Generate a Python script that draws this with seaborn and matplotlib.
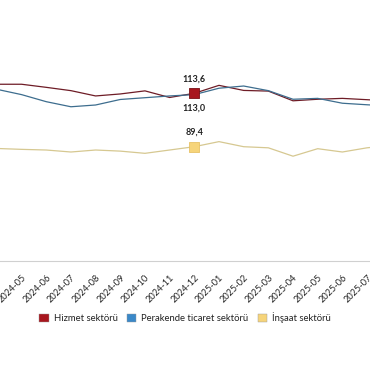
import matplotlib
matplotlib.use("Agg")
import matplotlib.pyplot as plt
import seaborn as sns
import pandas as pd
from matplotlib.patches import Patch

months = ["2024-04", "2024-05", "2024-06", "2024-07", "2024-08", "2024-09",
          "2024-10", "2024-11", "2024-12", "2025-01", "2025-02", "2025-03",
          "2025-04", "2025-05", "2025-06", "2025-07", "2025-08"]
hizmet = [117.7, 117.7, 116.3, 114.8, 112.4, 113.3, 114.7, 111.7, 113.6,
          117.2, 114.9, 114.6, 110.2, 110.9, 111.3, 110.7, 110.1]
perakende = [115.4, 113.0, 109.8, 107.5, 108.3, 110.8, 111.6, 112.4, 113.0,
             115.9, 116.9, 114.8, 110.9, 111.3, 109.1, 108.4, 107.8]
insaat = [88.6, 88.2, 87.9, 87.0, 87.9, 87.4, 86.4, 87.9, 89.4,
          91.7, 89.4, 88.9, 85.1, 88.5, 87.0, 88.9, 90.0]
series_names = ["Hizmet sektörü", "Perakende ticaret sektörü", "İnşaat sektörü"]
highlight_month = "2024-12"
highlight_labels = ["113,6", "113,0", "89,4"]

line_colors = ["#6e1c26", "#3d6d8e", "#d6c891"]
patch_colors = ["#a8161e", "#3a88c8", "#f6d47a"]

df = pd.DataFrame({
    "month": months * 3,
    "value": hizmet + perakende + insaat,
    "series": [series_names[0]] * len(months) + [series_names[1]] * len(months)
              + [series_names[2]] * len(months),
})

sns.set_theme(style="white")
plt.rcParams["font.family"] = ["Lato", "DejaVu Sans"]

fig = plt.figure(figsize=(3.7, 3.8), dpi=100)
ax = fig.add_axes([0.0, (380 - 260.7) / 380, 1.0, 260.7 / 380])

sns.lineplot(data=df, x="month", y="value", hue="series",
             palette=dict(zip(series_names, line_colors)),
             linewidth=0.9, legend=False, ax=ax, sort=False)

hi = months.index(highlight_month)
hdf = df[df["month"] == highlight_month]
vals = list(hdf["value"])
sns.scatterplot(x=[highlight_month], y=[vals[0]], marker="s", s=62,
                color=patch_colors[0], edgecolor="#7a1016", linewidth=0.6,
                ax=ax, zorder=5, legend=False)
sns.scatterplot(x=[highlight_month], y=[vals[2]], marker="s", s=62,
                color=patch_colors[2], edgecolor="#e8c266", linewidth=0.6,
                ax=ax, zorder=5, legend=False)

ax.annotate(highlight_labels[0], (hi, vals[0]), xytext=(0, 10),
            textcoords="offset points", ha="center", va="center",
            fontsize=6.5, fontweight="bold", color="#222222")
ax.annotate(highlight_labels[1], (hi, vals[1]), xytext=(0, -9.5),
            textcoords="offset points", ha="center", va="center",
            fontsize=6.5, fontweight="bold", color="#222222")
ax.annotate(highlight_labels[2], (hi, vals[2]), xytext=(0, 10.5),
            textcoords="offset points", ha="center", va="center",
            fontsize=6.5, fontweight="bold", color="#222222")

ax.set_xlabel("")
ax.set_ylabel("")
ax.set_yticks([])
ax.set_xticks(range(len(months)))
ax.set_xticklabels(months, rotation=45, ha="right", rotation_mode="anchor",
                   fontsize=6.6, color="#222222")
ax.tick_params(axis="x", length=0, pad=9)

ax.set_xlim(0.126, 15.12)
ymin = 89.4 - (260.7 - 146.7) / 2.207
ymax = 113.6 + 93.3 / 2.207
ax.set_ylim(ymin, ymax)

for s in ["top", "left", "right"]:
    ax.spines[s].set_visible(False)
ax.spines["bottom"].set_color("#d0d0d0")
ax.spines["bottom"].set_linewidth(0.8)

handles = [Patch(facecolor=c, edgecolor="#999999", linewidth=0.3) for c in patch_colors]
fig.legend(handles, series_names, loc="center", bbox_to_anchor=(0.5, 1 - 317.7 / 380),
           ncol=3, frameon=False, fontsize=6.8, handlelength=1.0, handleheight=1.0,
           handletextpad=0.5, columnspacing=1.0, labelcolor="#222222")

fig.savefig("out.png", dpi=100)
